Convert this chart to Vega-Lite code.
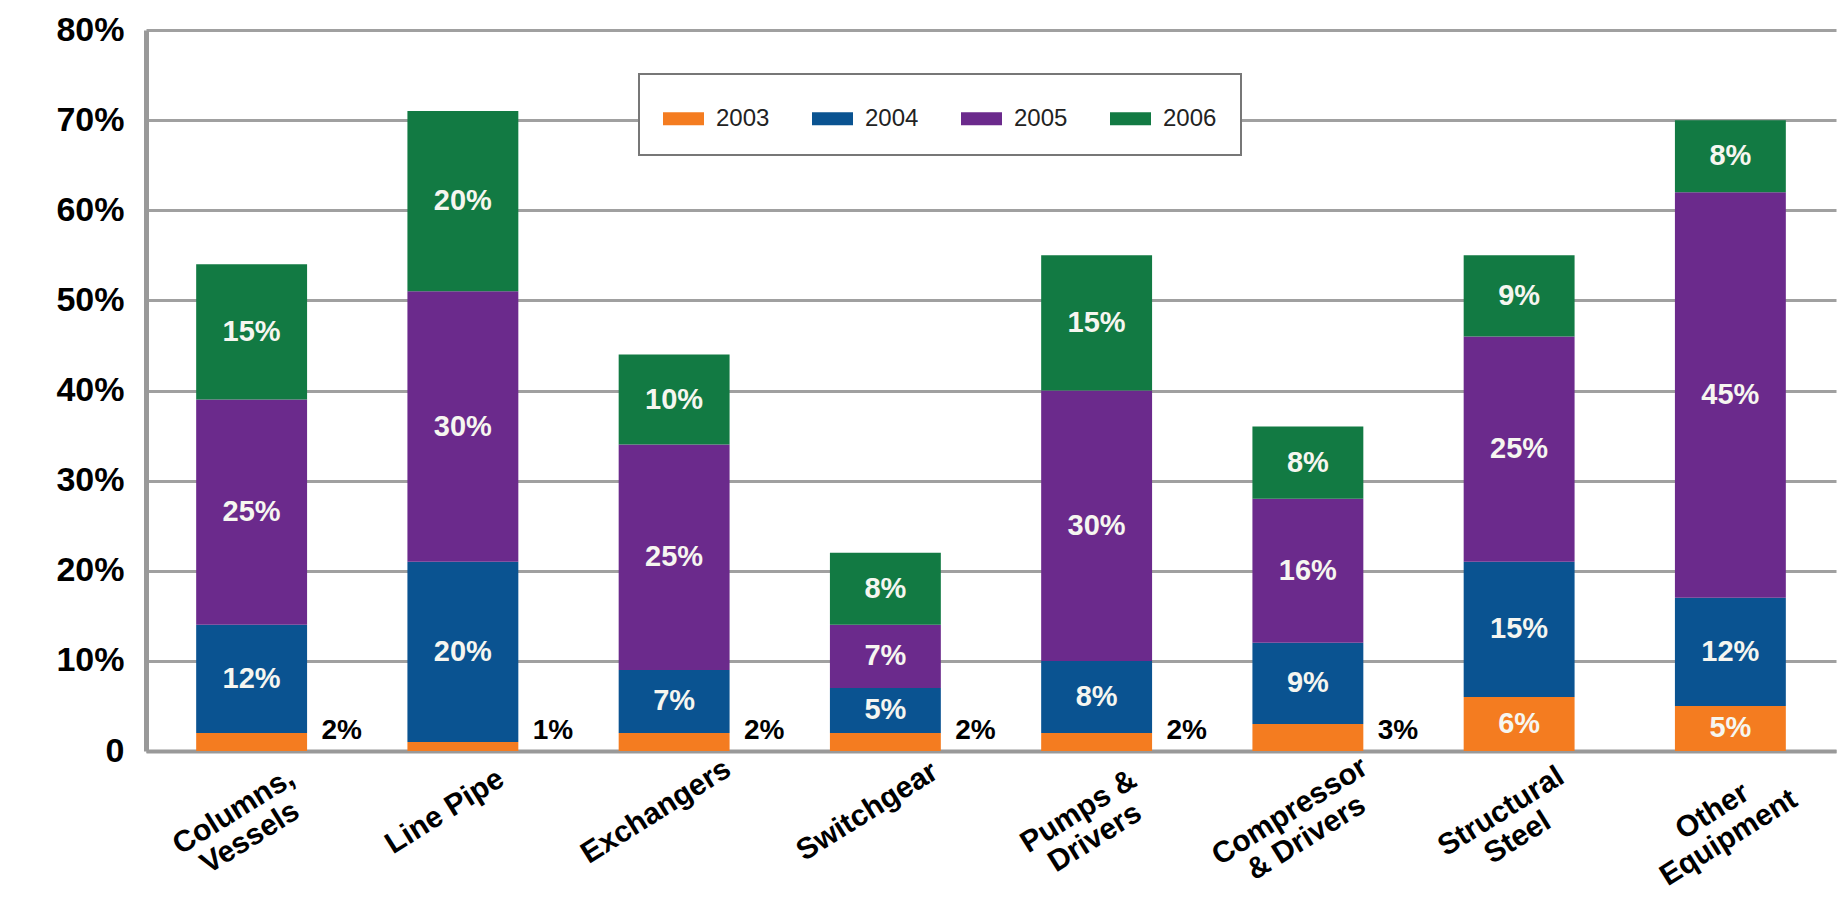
{
  "$schema": "https://vega.github.io/schema/vega-lite/v6.json",
  "width": 1690,
  "height": 721,
  "autosize": {"type": "none"},
  "padding": {"left": 146, "top": 30, "right": 2, "bottom": 154},
  "background": "white",
  "config": {"view": {"stroke": null}},
  "data": {
    "values": [
      {"cat": "Columns, Vessels", "year": "2003", "v": 0.02},
      {"cat": "Columns, Vessels", "year": "2004", "v": 0.12},
      {"cat": "Columns, Vessels", "year": "2005", "v": 0.25},
      {"cat": "Columns, Vessels", "year": "2006", "v": 0.15},
      {"cat": "Line Pipe", "year": "2003", "v": 0.01},
      {"cat": "Line Pipe", "year": "2004", "v": 0.20},
      {"cat": "Line Pipe", "year": "2005", "v": 0.30},
      {"cat": "Line Pipe", "year": "2006", "v": 0.20},
      {"cat": "Exchangers", "year": "2003", "v": 0.02},
      {"cat": "Exchangers", "year": "2004", "v": 0.07},
      {"cat": "Exchangers", "year": "2005", "v": 0.25},
      {"cat": "Exchangers", "year": "2006", "v": 0.10},
      {"cat": "Switchgear", "year": "2003", "v": 0.02},
      {"cat": "Switchgear", "year": "2004", "v": 0.05},
      {"cat": "Switchgear", "year": "2005", "v": 0.07},
      {"cat": "Switchgear", "year": "2006", "v": 0.08},
      {"cat": "Pumps & Drivers", "year": "2003", "v": 0.02},
      {"cat": "Pumps & Drivers", "year": "2004", "v": 0.08},
      {"cat": "Pumps & Drivers", "year": "2005", "v": 0.30},
      {"cat": "Pumps & Drivers", "year": "2006", "v": 0.15},
      {"cat": "Compressor & Drivers", "year": "2003", "v": 0.03},
      {"cat": "Compressor & Drivers", "year": "2004", "v": 0.09},
      {"cat": "Compressor & Drivers", "year": "2005", "v": 0.16},
      {"cat": "Compressor & Drivers", "year": "2006", "v": 0.08},
      {"cat": "Structural Steel", "year": "2003", "v": 0.06},
      {"cat": "Structural Steel", "year": "2004", "v": 0.15},
      {"cat": "Structural Steel", "year": "2005", "v": 0.25},
      {"cat": "Structural Steel", "year": "2006", "v": 0.09},
      {"cat": "Other Equipment", "year": "2003", "v": 0.05},
      {"cat": "Other Equipment", "year": "2004", "v": 0.12},
      {"cat": "Other Equipment", "year": "2005", "v": 0.45},
      {"cat": "Other Equipment", "year": "2006", "v": 0.08}
    ]
  },
  "encoding": {
    "x": {
      "field": "cat",
      "type": "nominal",
      "sort": null,
      "scale": {"paddingInner": 0.475, "paddingOuter": 0.2375},
      "axis": {
        "title": null,
        "labelExpr": "datum.value == 'Columns, Vessels' ? ['Columns,','Vessels'] : datum.value == 'Pumps & Drivers' ? ['Pumps &','Drivers'] : datum.value == 'Compressor & Drivers' ? ['Compressor','& Drivers'] : datum.value == 'Structural Steel' ? ['Structural','Steel'] : datum.value == 'Other Equipment' ? ['Other','Equipment'] : datum.value",
        "labelAngle": -32,
        "labelAlign": "center",
        "labelBaseline": "middle",
        "labelPadding": 60,
        "labelOffset": -18,
        "labelFont": "Liberation Sans",
        "labelFontSize": 30,
        "labelFontWeight": "bold",
        "labelColor": "#000000",
        "labelLineHeight": 31,
        "labelBound": false,
        "labelOverlap": false,
        "ticks": false,
        "domain": true,
        "domainColor": "#999999",
        "domainWidth": 4,
        "grid": false
      }
    }
  },
  "layer": [
    {
      "mark": {"type": "bar"},
      "encoding": {
        "y": {
          "field": "v",
          "type": "quantitative",
          "stack": "zero",
          "scale": {"domain": [0, 0.8]},
          "axis": {
            "title": null,
            "values": [0, 0.1, 0.2, 0.3, 0.4, 0.5, 0.6, 0.7, 0.8],
            "labelExpr": "datum.value == 0 ? '0' : format(datum.value, '.0%')",
            "labelFont": "Liberation Sans",
            "labelFontSize": 34,
            "labelFontWeight": "bold",
            "labelColor": "#000000",
            "labelPadding": 22,
            "ticks": false,
            "domain": true,
            "domainColor": "#999999",
            "domainWidth": 5,
            "grid": true,
            "gridColor": "#a0a0a0",
            "gridWidth": 3
          }
        },
        "color": {
          "field": "year",
          "type": "nominal",
          "scale": {
            "domain": ["2003", "2004", "2005", "2006"],
            "range": ["#F47C20", "#0A5391", "#6B2A8C", "#127A43"]
          },
          "legend": {
            "title": null,
            "orient": "none",
            "legendX": 493,
            "legendY": 44,
            "direction": "horizontal",
            "symbolType": "M-1,-0.32H1V0.32H-1Z",
            "symbolSize": 1681,
            "symbolStrokeWidth": 0,
            "labelFont": "Liberation Sans",
            "labelFontSize": 24,
            "labelFontWeight": 500,
            "labelColor": "#222222",
            "labelOffset": 12,
            "columnPadding": 42,
            "padding": 24,
            "fillColor": "white",
            "strokeColor": "#777777",
            "encode": {"legend": {"update": {"strokeWidth": {"value": 2}}}}
          }
        },
        "order": {"field": "year", "type": "nominal"}
      }
    },
    {
      "transform": [
        {"stack": "v", "groupby": ["cat"], "sort": [{"field": "year", "order": "ascending"}], "as": ["v0", "v1"]},
        {"filter": "datum.v > 0.03"},
        {"calculate": "(datum.v0 + datum.v1) / 2", "as": "mid"}
      ],
      "mark": {
        "type": "text",
        "font": "Liberation Sans",
        "fontSize": 29,
        "fontWeight": "bold",
        "color": "#f6f6f0",
        "baseline": "middle",
        "align": "center"
      },
      "encoding": {
        "y": {"field": "mid", "type": "quantitative"},
        "text": {"field": "v", "type": "quantitative", "format": ".0%"}
      }
    },
    {
      "transform": [
        {"filter": "datum.year == '2003' && datum.v <= 0.03"}
      ],
      "mark": {
        "type": "text",
        "font": "Liberation Sans",
        "fontSize": 28,
        "fontWeight": "bold",
        "color": "#000000",
        "baseline": "middle",
        "align": "center",
        "dx": 90
      },
      "encoding": {
        "y": {"datum": 0.022},
        "text": {"field": "v", "type": "quantitative", "format": ".0%"}
      }
    }
  ]
}
